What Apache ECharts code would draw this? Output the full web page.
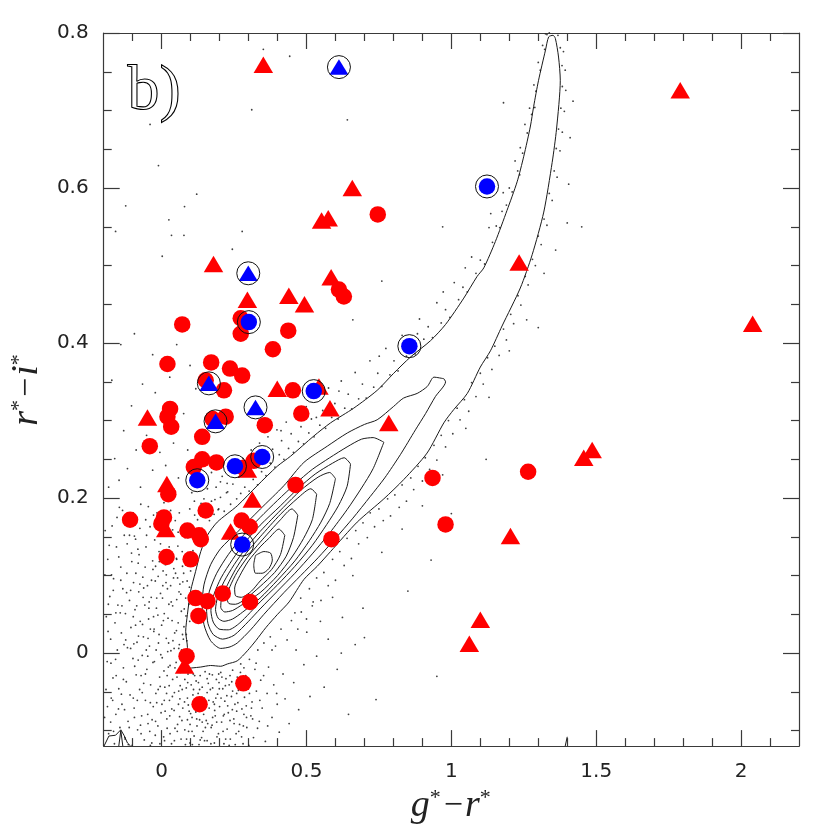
<!DOCTYPE html>
<html><head><meta charset="utf-8">
<script src="https://cdn.jsdelivr.net/npm/echarts@6/dist/echarts.min.js"></script>
<style>html,body{margin:0;padding:0;background:#fff}#c{width:830px;height:830px}</style>
</head><body><div id="c"></div>
<script>
// ---------- tick values ----------
const xTickLabels = [0, 0.5, 1, 1.5, 2];
const yTickLabels = [0, 0.2, 0.4, 0.6, 0.8];
const xMinorTicks = [-0.1,0.1,0.2,0.3,0.4,0.6,0.7,0.8,0.9,1.1,1.2,1.3,1.4,1.6,1.7,1.8,1.9,2.1];
const yMinorTicks = [-0.1,-0.05,0.05,0.1,0.15,0.25,0.3,0.35,0.45,0.5,0.55,0.65,0.7,0.75];

// ---------- objects ----------
const redCircles = [
[0.746,0.566],[0.612,0.469],[0.629,0.460],[0.273,0.432],[0.273,0.412],[0.071,0.424],[0.437,0.416],
[0.384,0.392],[0.020,0.373],[0.171,0.375],[0.236,0.367],[0.278,0.358],[0.152,0.352],[0.215,0.339],
[0.453,0.339],[0.029,0.315],[0.020,0.305],[0.033,0.292],[0.176,0.302],[0.221,0.305],[0.482,0.309],
[0.356,0.294],[0.140,0.279],[-0.041,0.267],[0.140,0.250],[0.189,0.246],[0.111,0.240],[0.284,0.239],
[0.318,0.248],[0.462,0.217],[0.023,0.205],[0.935,0.226],[1.265,0.234],[0.980,0.166],[0.152,0.184],
[-0.109,0.172],[0.008,0.175],[-0.001,0.167],[0.276,0.171],[0.304,0.163],[0.089,0.158],[0.129,0.152],
[0.135,0.147],[0.586,0.147],[0.017,0.124],[0.100,0.121],[0.117,0.071],[0.158,0.067],[0.211,0.077],
[0.305,0.066],[0.127,0.048],[0.086,-0.004],[0.282,-0.039],[0.131,-0.066]
];
const redTriangles = [
[0.351,0.759],[1.790,0.726],[0.658,0.600],[0.552,0.558],[0.575,0.561],[0.179,0.502],[1.234,0.504],
[0.585,0.485],[0.296,0.456],[0.439,0.461],[0.493,0.450],[0.399,0.341],[0.543,0.344],[0.581,0.316],
[-0.049,0.304],[0.784,0.297],[0.296,0.237],[0.018,0.218],[0.313,0.198],[0.238,0.157],[0.014,0.160],
[0.079,-0.016],[2.040,0.425],[1.457,0.252],[1.486,0.262],[1.204,0.151],[1.100,0.043],[1.062,0.012]
];
const blueTriangles = [[0.612,0.756],[0.299,0.490],[0.163,0.348],[0.324,0.317],[0.186,0.299]];
const blueCircles = [[1.123,0.602],[0.301,0.427],[0.855,0.396],[0.525,0.338],[0.347,0.253],[0.253,0.241],[0.123,0.223],[0.278,0.140]];

// ---------- field stars (positions) ----------
const starsLeft = [
[-0.197,-0.083],[-0.191,0.047],[-0.188,-0.011],[-0.186,0.121],[-0.183,-0.104],[-0.179,0.073],[-0.176,0.018],[-0.174,-0.058],[-0.171,0.164],[-0.168,-0.032],
[-0.166,0.096],[-0.163,-0.117],[-0.161,0.039],[-0.158,-0.079],[-0.156,0.137],[-0.153,0.004],[-0.151,0.062],[-0.148,-0.046],[-0.146,0.188],[-0.144,-0.096],
[-0.141,0.111],[-0.139,0.026],[-0.137,-0.066],[-0.134,0.083],[-0.132,-0.019],[-0.129,0.152],[-0.127,-0.109],[-0.125,0.051],[-0.122,-0.037],[-0.120,0.103],
[-0.118,0.007],[-0.116,-0.088],[-0.113,0.171],[-0.111,0.068],[-0.109,-0.054],[-0.106,0.033],[-0.104,0.129],[-0.102,-0.119],[-0.099,-0.007],[-0.097,0.091],
[-0.095,-0.071],[-0.092,0.056],[-0.090,0.147],[-0.088,-0.028],[-0.085,0.014],[-0.083,-0.099],[-0.081,0.116],[-0.079,0.079],[-0.076,-0.047],[-0.074,0.041],
[-0.072,0.192],[-0.069,-0.081],[-0.067,-0.003],[-0.065,0.098],[-0.063,0.021],[-0.060,-0.112],[-0.058,0.062],[-0.056,-0.061],[-0.054,0.137],[-0.051,-0.021],
[-0.049,0.087],[-0.047,-0.091],[-0.045,0.044],[-0.042,0.009],[-0.040,0.163],[-0.038,-0.041],[-0.036,0.072],[-0.034,-0.116],[-0.031,0.119],[-0.029,-0.069],
[-0.027,0.028],[-0.025,-0.011],[-0.022,0.093],[-0.020,-0.052],[-0.018,0.058],[-0.016,0.181],[-0.013,-0.094],[-0.011,0.013],[-0.009,0.131],[-0.007,-0.031],
[-0.004,0.077],[-0.002,-0.077],[0.000,0.036],[0.002,-0.006],[0.005,0.106],[0.007,-0.108],[0.009,0.051],[0.011,-0.044],[0.014,0.154],[0.016,0.019],
[0.018,-0.085],[0.020,0.083],[0.023,-0.018],[0.025,0.063],[0.027,-0.061],[0.029,0.121],[0.032,0.003],[0.034,-0.117],[0.036,0.042],[0.038,-0.034],
[0.041,0.097],[0.043,-0.074],[0.045,0.026],[0.047,0.171],[0.050,-0.012],[0.052,0.069],[0.054,-0.101],[0.056,0.138],[0.059,-0.049],[0.061,0.011],
[0.063,0.089],[0.065,-0.025],[0.068,0.054],[0.070,-0.087],[0.072,0.112],[0.074,-0.006],[0.077,0.034],[0.079,-0.063],[0.081,0.149],[0.083,0.071],
[0.086,-0.111],[0.088,0.093],[0.090,-0.038],[0.093,0.128],[0.095,-0.075],[0.097,0.186],[0.100,0.106],[0.104,0.159],[0.108,0.132],[0.113,0.196],
[0.118,0.145],[0.124,0.172],[0.131,0.188],[0.139,0.161],[0.146,0.199],[0.152,0.176],[0.160,0.191],[0.171,0.183],[0.184,0.198],[0.197,0.186],
[-0.048,-0.004],[-0.043,0.066],[-0.033,-0.086],[-0.028,0.047],[-0.017,-0.064],[-0.012,0.099],[-0.006,-0.117],[0.003,0.071],[0.008,-0.023],[0.013,0.114],
[0.019,-0.097],[0.022,0.045],[0.026,-0.042],[0.031,0.087],[0.035,-0.072],[0.039,0.016],[0.044,-0.113],[0.048,0.103],[0.053,-0.031],[0.057,0.039],
[0.062,-0.082],[0.066,0.076],[0.071,-0.047],[0.075,0.018],[0.080,-0.099],[0.084,0.048],[0.089,-0.058],[0.094,0.063],[0.098,-0.116],[0.066,-0.004],
[-0.062,0.084],[-0.071,-0.029],[-0.078,0.127],[-0.086,0.061],[-0.094,-0.083],[-0.107,0.006],[-0.119,0.141],[-0.128,-0.073],[-0.143,0.052],[-0.159,-0.008],
[-0.173,0.101],[-0.187,-0.069],[-0.195,0.158],[-0.135,0.184],[-0.098,0.181],[-0.055,0.172],[-0.024,0.146],[0.038,0.159],[0.061,0.181],[0.008,0.194],
[-0.009,0.024],[0.043,0.006],[0.058,-0.066],[0.017,-0.052],[-0.039,0.031],[0.073,0.092],[0.029,-0.104],[-0.021,0.112],[0.051,0.122],[0.085,0.024]
];
const starsDense = [
[-0.098,0.047],[-0.093,-0.017],[-0.089,0.103],[-0.084,-0.061],[-0.080,0.022],[-0.075,0.089],[-0.071,-0.104],[-0.066,0.037],[-0.062,-0.039],[-0.057,0.111],
[-0.053,0.004],[-0.048,-0.079],[-0.044,0.058],[-0.039,-0.119],[-0.035,0.094],[-0.030,-0.012],[-0.026,0.031],[-0.021,-0.088],[-0.017,0.071],[-0.012,-0.047],
[-0.008,0.118],[-0.003,-0.002],[0.001,-0.066],[0.006,0.042],[0.010,-0.113],[0.015,0.091],[0.019,-0.029],[0.024,0.013],[0.028,-0.081],[0.033,0.066],
[0.037,-0.056],[0.042,0.109],[0.046,-0.019],[0.051,0.029],[0.055,-0.092],[0.060,0.079],[0.064,-0.042],[0.069,0.004],[0.073,-0.071],[0.078,0.057],
[0.082,-0.118],[0.087,0.016],[0.091,-0.027],[0.096,0.085],[0.100,-0.078],[0.105,-0.101],[0.110,-0.047],[0.116,-0.066],[0.121,-0.085],[0.127,-0.038],
[0.133,-0.112],[0.139,-0.057],[0.145,-0.079],[0.151,-0.096],[0.157,-0.033],[0.163,-0.061],[0.170,-0.117],[0.176,-0.045],[0.183,-0.074],[0.190,-0.089],
[0.197,-0.027],[0.205,-0.058],[0.212,-0.101],[0.220,-0.042],[0.228,-0.068],[0.236,-0.087],[0.245,-0.049],[0.254,-0.118],[0.263,-0.064],[0.272,-0.025],
[0.282,-0.094],[0.292,-0.068],[0.303,-0.052],[0.314,-0.085],[0.326,-0.013],[0.339,-0.061],[0.352,-0.029],[0.366,-0.094],[0.381,0.004],[0.397,-0.052],
[-0.185,0.028],[-0.176,-0.089],[-0.167,0.081],[-0.157,-0.029],[-0.148,0.124],[-0.139,-0.053],[-0.130,0.011],[-0.121,0.078],[-0.112,-0.096],[-0.103,0.118],
[-0.094,0.151],[-0.075,0.161],[-0.046,0.189],[-0.014,0.171],[0.026,0.137],[0.057,0.156],[0.071,0.131],[0.091,0.149],[0.114,0.178],[0.136,0.193],
[-0.192,-0.047],[-0.184,0.063],[-0.175,-0.013],[-0.166,-0.101],[-0.158,0.052],[-0.149,-0.072],[-0.141,0.094],[-0.132,-0.034],[-0.124,0.017],[-0.115,-0.118],
[-0.107,0.081],[-0.098,-0.058],[-0.090,0.036],[-0.081,-0.009],[-0.073,-0.093],[-0.064,0.072],[-0.056,-0.027],[-0.047,0.019],[-0.039,-0.064],[-0.030,0.108],
[-0.022,-0.106],[-0.013,0.049],[-0.005,-0.043],[0.004,0.087],[0.012,-0.075],[0.021,0.002],[0.029,-0.016],[0.038,0.061],[0.046,-0.097],[0.055,0.097],
[0.063,-0.059],[0.072,0.024],[0.080,-0.034],[0.089,-0.086],[0.097,0.041],[0.106,-0.118],[0.114,-0.029],[0.123,-0.068],[0.131,-0.047],[0.140,-0.089],
[0.148,-0.113],[0.157,-0.051],[0.165,-0.027],[0.174,-0.093],[0.182,-0.066],[0.191,-0.108],[0.199,-0.046],[0.208,-0.031],[0.216,-0.079],[0.225,-0.055],
[0.233,-0.119],[0.242,-0.037],[0.250,-0.091],[0.259,-0.075],[0.267,-0.043],[0.276,-0.108],[0.284,-0.019],[0.293,-0.083],[0.301,-0.119],[0.310,-0.071],
[-0.196,0.101],[-0.181,0.139],[-0.169,-0.061],[-0.154,0.175],[-0.137,0.061],[-0.126,-0.111],[-0.111,0.152],[-0.096,0.012],[-0.082,0.134],[-0.067,-0.051],
[-0.052,0.152],[-0.041,-0.101],[-0.028,0.178],[-0.019,0.004],[-0.004,0.141],[0.009,-0.061],[0.016,0.101],[0.031,0.184],[0.044,-0.051],[0.052,0.121],
[0.059,0.006],[0.067,-0.111],[0.076,0.103],[0.085,-0.045],[0.093,-0.101]
];
const starsBottom = [
[0.102,-0.041],[0.105,-0.083],[0.109,-0.027],[0.112,-0.107],[0.115,-0.061],[0.119,-0.036],[0.122,-0.094],[0.126,-0.052],[0.129,-0.118],[0.133,-0.029],
[0.136,-0.073],[0.140,-0.044],[0.143,-0.101],[0.147,-0.058],[0.150,-0.024],[0.154,-0.087],[0.157,-0.113],[0.161,-0.039],[0.164,-0.071],[0.168,-0.047],
[0.171,-0.096],[0.175,-0.028],[0.178,-0.063],[0.182,-0.116],[0.185,-0.081],[0.189,-0.034],[0.193,-0.053],[0.196,-0.104],[0.200,-0.069],[0.204,-0.025],
[0.207,-0.089],[0.211,-0.046],[0.215,-0.117],[0.218,-0.062],[0.222,-0.033],[0.226,-0.098],[0.230,-0.077],[0.233,-0.041],[0.237,-0.111],[0.241,-0.056],
[0.245,-0.022],[0.249,-0.085],[0.253,-0.066],[0.257,-0.104],[0.261,-0.031],[0.265,-0.048],[0.269,-0.092],[0.273,-0.014],[0.277,-0.072],[0.281,-0.117],
[0.286,-0.057],[0.290,-0.029],[0.294,-0.096],[0.299,-0.043],[0.303,-0.008],[0.308,-0.081],[0.312,-0.063],[0.317,-0.109],[0.322,-0.021],[0.327,-0.049],
[0.332,0.004],[0.337,-0.088],[0.342,-0.035],[0.347,-0.071],[0.353,0.013],[0.358,-0.114],[0.364,-0.052],[0.369,-0.018],[0.375,0.021],[0.381,-0.083],
[0.387,-0.041],[0.393,0.009],[0.399,-0.066],[0.406,-0.102],[0.412,0.031],[0.419,-0.027],[0.426,-0.059],[0.433,0.017],[0.440,-0.091],[0.448,0.042],
[0.456,-0.038],[0.464,0.004],[0.473,-0.073],[0.482,0.053],[0.491,-0.015],[0.501,0.027],[0.512,-0.056],[0.523,0.066],[0.535,-0.004],[0.548,0.041],
[0.561,-0.044],[0.575,0.018],[0.590,0.072],[0.606,-0.021],[0.624,0.046],[0.645,-0.079],[0.668,0.011],[0.695,0.058],
[0.092,-0.067],[0.098,-0.092],[0.118,-0.076],[0.138,-0.109],[0.159,-0.091],[0.176,-0.083],[0.198,-0.038],[0.221,-0.111],[0.244,-0.073],[0.266,-0.101],
[0.108,-0.054],[0.131,-0.086],[0.152,-0.068],[0.187,-0.058],[0.213,-0.081],[0.236,-0.029],[0.259,-0.052],[0.284,-0.079],[0.306,-0.037],[0.331,-0.097]
];
const starsUpper = [
[-0.183,0.214],[-0.162,0.251],[-0.147,0.223],[-0.131,0.287],[-0.118,0.238],[-0.104,0.319],[-0.088,0.262],[-0.073,0.214],
[-0.066,0.347],[-0.052,0.281],[-0.031,0.236],[-0.022,0.336],[-0.006,0.259],[0.014,0.242],[0.028,0.356],[0.041,0.271],
[0.058,0.226],[0.076,0.309],[0.090,0.262],[0.104,0.207],[0.118,0.341],[0.136,0.228],[0.158,0.212],[0.172,0.233],
[0.203,0.221],[0.228,0.208],[-0.172,0.352],[-0.141,0.398],[-0.094,0.412],[-0.031,0.385],[0.052,0.398],[0.098,0.371],
[0.351,0.779],[0.442,0.770],[0.311,0.701],[0.641,0.688],[-0.040,0.682],[-0.011,0.629],[0.121,0.592],[-0.124,0.577],
[0.079,0.576],[0.025,0.559],[-0.159,0.544],[0.034,0.539],[0.077,0.539],[0.278,0.544],[0.244,0.521],[0.002,0.512]
];
const starsUpperBranch = [
[0.165,0.171],[0.172,0.196],[0.181,0.179],[0.188,0.214],[0.195,0.185],[0.203,0.201],[0.209,0.228],[0.216,0.183],[0.224,0.207],[0.231,0.236],
[0.238,0.192],[0.246,0.218],[0.252,0.245],[0.259,0.199],[0.266,0.227],[0.273,0.206],[0.281,0.251],[0.287,0.214],[0.294,0.232],[0.302,0.209],
[0.309,0.262],[0.316,0.224],[0.323,0.243],[0.331,0.217],[0.338,0.271],[0.345,0.234],[0.352,0.252],[0.360,0.229],[0.367,0.279],[0.375,0.245],
[0.383,0.263],[0.391,0.240],[0.398,0.288],[0.406,0.256],[0.414,0.274],[0.422,0.250],[0.430,0.298],[0.438,0.264],[0.447,0.283],[0.455,0.259],
[0.463,0.311],[0.472,0.273],[0.481,0.292],[0.490,0.270],[0.499,0.318],[0.508,0.284],[0.517,0.302],[0.526,0.279],[0.536,0.331],[0.546,0.294],
[0.556,0.313],[0.566,0.290],[0.576,0.342],[0.587,0.304],[0.598,0.322],[0.609,0.302],[0.620,0.351],[0.632,0.316],[0.644,0.334],[0.656,0.315],
[0.668,0.362],[0.680,0.328],[0.693,0.347],[0.706,0.329],[0.719,0.377],[0.732,0.343],[0.746,0.361],[0.760,0.344],[0.774,0.393],[0.788,0.359],
[0.802,0.377],[0.816,0.364],[0.830,0.410],[0.845,0.383],[0.860,0.398],[0.875,0.386],[0.890,0.431],[0.905,0.405],[0.920,0.421],[0.935,0.407],
[0.950,0.452],[0.965,0.426],[0.980,0.443],[0.995,0.433],[1.010,0.478],[1.025,0.456],[1.040,0.472],[1.055,0.466],[1.070,0.511],[1.085,0.490],
[1.100,0.507],[1.115,0.502],[1.130,0.549],[1.142,0.530],[1.155,0.551],[1.167,0.549],[1.179,0.594],[1.190,0.578],[1.200,0.600],[1.210,0.595],
[1.220,0.635],[1.229,0.622],[1.238,0.652],[1.246,0.645],[1.254,0.682],[1.262,0.671],[1.270,0.703],[1.277,0.695],[1.285,0.733],[1.292,0.725],
[1.300,0.762],[1.307,0.752],[1.315,0.784],[1.322,0.779],[1.330,0.798],[1.338,0.800],[1.325,0.799],[1.288,0.704],[1.236,0.617],[1.175,0.570],
[0.412,0.287],[0.534,0.304],[0.612,0.338],[0.751,0.383],[0.883,0.412],[0.972,0.466],[1.048,0.497],[1.136,0.567],[0.298,0.247],[0.226,0.219]
];
const starsLowerBranch = [
[0.460,0.052],[0.470,0.031],[0.480,0.071],[0.500,0.044],[0.510,0.083],[0.520,0.061],[0.535,0.097],[0.550,0.068],[0.560,0.104],[0.575,0.087],
[0.590,0.121],[0.600,0.094],[0.615,0.131],[0.630,0.113],[0.640,0.148],[0.655,0.122],[0.670,0.158],[0.680,0.141],[0.695,0.168],[0.710,0.149],
[0.720,0.181],[0.735,0.163],[0.750,0.186],[0.765,0.171],[0.780,0.199],[0.790,0.177],[0.805,0.204],[0.820,0.188],[0.830,0.217],[0.845,0.196],
[0.860,0.226],[0.870,0.211],[0.885,0.241],[0.900,0.222],[0.910,0.252],[0.925,0.237],[0.940,0.268],[0.950,0.249],[0.965,0.281],[0.980,0.266],
[0.990,0.300],[1.005,0.283],[1.020,0.316],[1.030,0.301],[1.045,0.327],[1.060,0.312],[1.070,0.349],[1.085,0.331],[1.100,0.361],[1.110,0.347],
[1.125,0.381],[1.140,0.366],[1.150,0.396],[1.165,0.384],[1.180,0.418],[1.190,0.404],[1.205,0.437],[1.215,0.425],[1.230,0.461],[1.240,0.449],
[1.255,0.486],[1.265,0.475],[1.280,0.508],[1.290,0.500],[1.300,0.538],[1.310,0.527],[1.320,0.560],[1.330,0.552],[1.338,0.593],[1.348,0.584],
[1.355,0.622],[1.365,0.614],[1.362,0.651],[1.375,0.648],[1.370,0.676],[1.383,0.672],[1.378,0.703],[1.390,0.699],[1.383,0.731],[1.395,0.726],
[1.382,0.758],[1.393,0.752],[1.376,0.781],[1.387,0.776],[1.368,0.797],[1.410,0.665],[1.405,0.605],[1.420,0.712],[1.400,0.555],[1.360,0.520],
[1.320,0.490],[1.260,0.430],[1.200,0.390],[1.130,0.330],[1.050,0.290],[0.970,0.230],[0.900,0.190],[0.830,0.160],[0.760,0.130],[0.660,0.100]
];
const starsOutliers = [
[0.850,0.080],[0.930,0.120],[0.700,0.020],[1.000,0.180],[1.120,0.250],[0.620,0.000],[1.300,0.420],
[1.450,0.550],[0.970,0.550],[0.760,0.480],[0.660,0.430],[1.180,0.710],[0.740,-0.060],[0.950,-0.030]
];

// ---------- density contours ----------
const contour1 = [
[0.080,-0.020],[0.078,-0.012],[0.089,0.007],[0.083,0.028],[0.089,0.050],[0.100,0.080],[0.117,0.105],[0.135,0.131],
[0.158,0.152],[0.192,0.169],[0.261,0.190],[0.330,0.216],[0.399,0.241],[0.445,0.254],[0.525,0.280],[0.583,0.297],
[0.663,0.316],[0.744,0.339],[0.801,0.361],[0.859,0.382],[0.928,0.403],[0.980,0.424],[1.043,0.458],[1.089,0.486],
[1.112,0.497],[1.152,0.531],[1.192,0.571],[1.227,0.608],[1.250,0.641],[1.273,0.680],[1.284,0.705],[1.301,0.739],
[1.325,0.778],[1.336,0.795],[1.351,0.797],[1.359,0.793],[1.370,0.769],[1.376,0.739],[1.363,0.676],[1.348,0.633],
[1.319,0.569],[1.279,0.514],[1.238,0.471],[1.175,0.422],[1.135,0.390],[1.100,0.369],[1.055,0.335],[1.008,0.314],
[0.974,0.297],[0.916,0.258],[0.836,0.224],[0.767,0.199],[0.675,0.169],[0.583,0.131],[0.537,0.112],[0.491,0.095],
[0.440,0.066],[0.400,0.050],[0.360,0.033],[0.325,0.016],[0.296,0.003],[0.261,-0.010],[0.227,-0.014],[0.204,-0.017],
[0.169,-0.016],[0.135,-0.018],[0.080,-0.020]
];
const contour2 = [
[0.974,0.354],[0.940,0.356],[0.917,0.344],[0.882,0.335],[0.835,0.329],[0.800,0.318],[0.744,0.301],[0.700,0.295],
[0.641,0.284],[0.572,0.267],[0.491,0.246],[0.422,0.216],[0.341,0.186],[0.261,0.156],[0.204,0.135],[0.169,0.114],
[0.146,0.088],[0.140,0.063],[0.146,0.037],[0.169,0.016],[0.204,0.006],[0.236,0.008],[0.261,0.013],[0.307,0.030],
[0.353,0.050],[0.422,0.078],[0.480,0.100],[0.540,0.123],[0.600,0.148],[0.660,0.174],[0.720,0.202],[0.770,0.226],
[0.824,0.256],[0.876,0.288],[0.911,0.309],[0.945,0.331],[0.980,0.350],[0.974,0.354]
];
const contour3 = [
[0.767,0.272],[0.730,0.278],[0.690,0.276],[0.640,0.266],[0.580,0.252],[0.520,0.237],[0.460,0.218],[0.400,0.197],
[0.340,0.175],[0.280,0.151],[0.230,0.127],[0.190,0.103],[0.165,0.080],[0.155,0.058],[0.160,0.038],[0.178,0.024],
[0.210,0.018],[0.250,0.023],[0.300,0.041],[0.340,0.057],[0.400,0.080],[0.460,0.103],[0.520,0.128],[0.580,0.155],
[0.640,0.185],[0.690,0.213],[0.730,0.238],[0.767,0.272]
];
const contour4 = [
[0.652,0.244],[0.630,0.252],[0.590,0.245],[0.530,0.231],[0.470,0.212],[0.410,0.190],[0.340,0.165],[0.290,0.144],
[0.245,0.121],[0.205,0.097],[0.180,0.075],[0.170,0.055],[0.178,0.040],[0.198,0.031],[0.230,0.030],[0.270,0.039],
[0.340,0.066],[0.400,0.088],[0.460,0.112],[0.520,0.139],[0.570,0.166],[0.610,0.190],[0.640,0.215],[0.652,0.244]
];
const contour5 = [
[0.600,0.225],[0.580,0.233],[0.540,0.227],[0.480,0.210],[0.420,0.188],[0.340,0.157],[0.290,0.135],[0.250,0.114],
[0.215,0.092],[0.193,0.072],[0.186,0.056],[0.195,0.045],[0.215,0.041],[0.245,0.044],[0.280,0.053],[0.340,0.071],
[0.400,0.094],[0.460,0.119],[0.510,0.145],[0.550,0.169],[0.580,0.193],[0.600,0.225]
];
const contour6 = [
[0.535,0.205],[0.515,0.212],[0.470,0.200],[0.410,0.179],[0.340,0.150],[0.290,0.128],[0.255,0.108],[0.227,0.088],
[0.207,0.071],[0.204,0.059],[0.218,0.053],[0.245,0.055],[0.280,0.063],[0.340,0.078],[0.400,0.100],[0.450,0.124],
[0.490,0.148],[0.520,0.172],[0.535,0.205]
];
const contour7 = [
[0.470,0.178],[0.450,0.186],[0.410,0.172],[0.340,0.143],[0.295,0.123],[0.260,0.104],[0.236,0.086],[0.225,0.072],
[0.232,0.064],[0.255,0.063],[0.290,0.070],[0.340,0.086],[0.390,0.104],[0.430,0.125],[0.455,0.149],[0.470,0.178]
];
const contour8 = [
[0.425,0.152],[0.405,0.160],[0.370,0.148],[0.340,0.137],[0.300,0.119],[0.270,0.100],[0.252,0.084],[0.255,0.074],
[0.275,0.072],[0.310,0.080],[0.340,0.093],[0.380,0.108],[0.410,0.127],[0.425,0.152]
];
const contour9 = [
[0.324,0.126],[0.353,0.131],[0.376,0.129],[0.382,0.120],[0.370,0.109],[0.347,0.103],[0.324,0.103],[0.318,0.114],[0.324,0.126]
];
const cornerContourA = [[-0.199,-0.120],[-0.182,-0.107],[-0.159,-0.106],[-0.141,-0.099],[-0.130,-0.106],[-0.118,-0.116],[-0.107,-0.120]];
const cornerContourB = [[-0.148,-0.120],[-0.141,-0.100],[-0.134,-0.120]];
const edgeContour = [[1.393,-0.120],[1.400,-0.108]];

// ---------- chart ----------
const axisColor = '#3a3a3a';
const lineW = 1.2;
function xAx(pos, ticks, len, showLine, labels) {
  return {
    type: 'value', min: -0.2, max: 2.2, position: pos,
    axisLine: { show: showLine, onZero: false, lineStyle: { color: axisColor, width: lineW } },
    axisTick: { show: true, inside: true, length: len, customValues: ticks, lineStyle: { color: axisColor, width: lineW } },
    axisLabel: labels ? { show: true, customValues: labels, margin: 16, fontSize: 20, fontFamily: 'DejaVu Sans', color: '#222' } : { show: false },
    splitLine: { show: false }
  };
}
function yAx(pos, ticks, len, showLine, labels) {
  return {
    type: 'value', min: -0.12, max: 0.8, position: pos,
    axisLine: { show: showLine, onZero: false, lineStyle: { color: axisColor, width: lineW } },
    axisTick: { show: true, inside: true, length: len, customValues: ticks, lineStyle: { color: axisColor, width: lineW } },
    axisLabel: labels ? { show: true, customValues: labels, margin: 15, fontSize: 20, fontFamily: 'DejaVu Sans', color: '#222' } : { show: false },
    splitLine: { show: false }
  };
}
const titleRich = {
  i: { fontFamily: 'Liberation Serif', fontStyle: 'italic', fontSize: 38, color: '#222' },
  s: { fontFamily: 'Liberation Serif', fontSize: 22, color: '#222', verticalAlign: 'top', padding: [0, 1, 0, 0] },
  m: { fontFamily: 'Liberation Serif', fontSize: 34, color: '#222', padding: [0, 2, 0, 2] }
};
const xMain = xAx('bottom', xTickLabels, 16, true, xTickLabels);
xMain.name = '{i|g}{s|*}{m|−}{i|r}{s|*}';
xMain.nameLocation = 'middle';
xMain.nameGap = 36;
xMain.nameTextStyle = { rich: titleRich };
const yMain = yAx('left', yTickLabels, 16, true, yTickLabels);
yMain.name = '{i|r}{s|*}{m|−}{i|i}{s|*}';
yMain.nameLocation = 'middle';
yMain.nameGap = 50;
yMain.nameRotate = 90;
yMain.nameTextStyle = { rich: titleRich };

function contourSeries(d) {
  return { type: 'line', data: d, showSymbol: false, symbol: 'none', silent: true, smooth: 0.25,
    lineStyle: { color: '#1a1a1a', width: 1 }, z: 3 };
}
const allStars = [].concat(starsLeft, starsDense, starsBottom, starsUpper, starsUpperBranch, starsLowerBranch, starsOutliers);

const option = {
  animation: false,
  backgroundColor: '#fff',
  grid: { left: 103, right: 31, top: 33, bottom: 77 },
  xAxis: [
    xMain,
    xAx('bottom', xMinorTicks, 8, false, null),
    xAx('top', xTickLabels, 16, true, null),
    xAx('top', xMinorTicks, 8, false, null)
  ],
  yAxis: [
    yMain,
    yAx('left', yMinorTicks, 8, false, null),
    yAx('right', yTickLabels, 16, true, null),
    yAx('right', yMinorTicks, 8, false, null)
  ],
  graphic: [{
    type: 'text', left: 127, top: 60, z: 10,
    style: { text: 'b)', font: '64px "Liberation Serif"', fill: 'none', stroke: '#000', lineWidth: 1.1 }
  }],
  series: [
    { type: 'scatter', data: allStars, symbolSize: 1.8, silent: true, itemStyle: { color: '#2a2a2a', opacity: 0.9 }, z: 2 },
    contourSeries(contour1), contourSeries(contour2), contourSeries(contour3), contourSeries(contour4),
    contourSeries(contour5), contourSeries(contour6), contourSeries(contour7), contourSeries(contour8),
    contourSeries(contour9),
    { type: 'line', data: cornerContourA, showSymbol: false, symbol: 'none', silent: true, lineStyle: { color: '#1a1a1a', width: 1 }, z: 3 },
    { type: 'line', data: cornerContourB, showSymbol: false, symbol: 'none', silent: true, lineStyle: { color: '#1a1a1a', width: 1 }, z: 3 },
    { type: 'line', data: edgeContour, showSymbol: false, symbol: 'none', silent: true, lineStyle: { color: '#1a1a1a', width: 1 }, z: 3 },
    { type: 'scatter', data: redCircles, symbol: 'circle', symbolSize: 16.5, itemStyle: { color: '#ff0000', opacity: 1 }, z: 4 },
    { type: 'scatter', data: redTriangles, symbol: 'triangle', symbolSize: [19.5, 16.5], itemStyle: { color: '#ff0000', opacity: 1 }, z: 4 },
    { type: 'scatter', data: blueCircles, symbol: 'circle', symbolSize: 16.5, itemStyle: { color: '#0000ff', opacity: 1 }, z: 5 },
    { type: 'scatter', data: blueTriangles, symbol: 'triangle', symbolSize: [19, 15.5], itemStyle: { color: '#0000ff', opacity: 1 }, z: 5 },
    { type: 'scatter', data: blueCircles.concat(blueTriangles), symbol: 'circle', symbolSize: 23,
      itemStyle: { color: 'rgba(0,0,0,0)', borderColor: '#111', borderWidth: 1, opacity: 1 }, z: 6 }
  ]
};
const chart = echarts.init(document.getElementById('c'), null, { renderer: 'canvas' });
chart.setOption(option);
</script>
</body></html>
